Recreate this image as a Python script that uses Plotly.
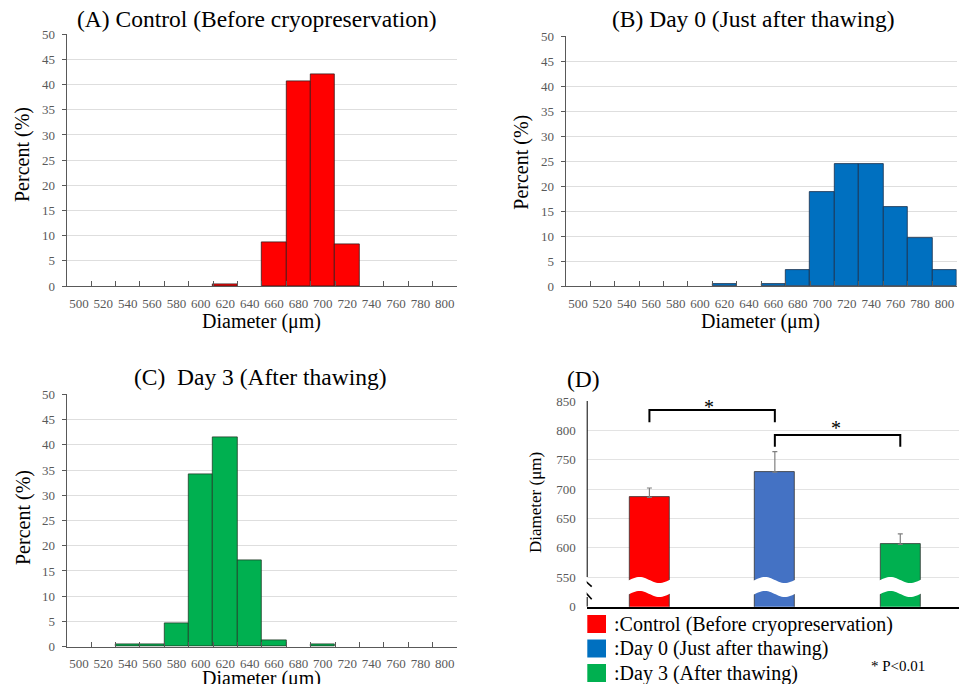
import numpy as np
import plotly.graph_objects as go

# ---------------- data ----------------
bins = ["500", "520", "540", "560", "580", "600", "620", "640",
        "660", "680", "700", "720", "740", "760", "780", "800"]
pct_control = [0, 0, 0, 0, 0, 0, 0.35, 0, 8.7, 40.6, 42.0, 8.3, 0, 0, 0, 0]
pct_day0 = [0, 0, 0, 0, 0, 0, 0.35, 0, 0.35, 3.2, 18.8, 24.4, 24.4, 15.9, 9.6, 3.2]
pct_day3 = [0, 0, 0.4, 0.4, 4.7, 34.2, 41.4, 17.1, 1.2, 0, 0.4, 0, 0, 0, 0, 0]

groups = ["Control (Before cryopreservation)", "Day 0 (Just after thawing)", "Day 3 (After thawing)"]
mean_diam = [686, 729, 606]
sd_diam = [16, 35, 18]
d_ticks = [500, 550, 600, 650, 700, 750, 800, 850]
d_ticktext = ["0", "550", "600", "650", "700", "750", "800", "850"]
sig_pairs = [(0, 1), (1, 2)]
sig_top = [834.7, 792.1]
sig_leg = [20.9, 19.9]
sig_star_y = [840.6, 804.1]
sig_star_x = [0.475, 1.49]

# page body margin compensation
OX, OY = 8, 8
W, H = 967 - OX, 684 - OY
SERIF = "Liberation Serif"
GREY = "#595959"

hist_colors = ["#FF0000", "#0070C0", "#00B050"]
hist_lines = ["#3a1a1a", "#1b2f4a", "#1f3d27"]
d_colors = ["#FF0000", "#4472C4", "#00B050"]
legend_colors = ["#FF0000", "#0070C0", "#00B050"]

fig = go.Figure()

for i, (vals, ax) in enumerate([(pct_control, ""), (pct_day0, "2"), (pct_day3, "3")]):
    fig.add_trace(go.Bar(
        x=bins, y=vals, xaxis="x" + ax, yaxis="y" + ax,
        marker=dict(color=hist_colors[i],
                    line=dict(color=hist_lines[i], width=[0.8 if v > 0 else 0 for v in vals])),
        showlegend=False, hoverinfo="x+y"))

fig.add_trace(go.Bar(
    x=[0, 1, 2], y=mean_diam, width=0.32, xaxis="x4", yaxis="y4",
    marker=dict(color=d_colors, line=dict(color="#333333", width=0.8)),
    error_y=dict(type="data", array=sd_diam, arrayminus=[0, 0, 0], symmetric=False,
                 color="#7f7f7f", thickness=1.2, width=2.5),
    showlegend=False))


def px_x(px):
    return (px - OX) / W


def px_y(py):
    return 1 - (py - OY) / H


hist_domains = [
    ([66.7, 457.0], [34.3, 286.0]),
    ([565.7, 956.7], [36.0, 286.0]),
    ([66.7, 457.0], [394.3, 646.7]),
]

layout = dict(
    width=W, height=H, autosize=False,
    margin=dict(l=0, r=0, t=0, b=0, pad=0, autoexpand=False),
    paper_bgcolor="white", plot_bgcolor="white",
    bargap=0, showlegend=False,
    font=dict(family=SERIF, color="black"),
)

for i, (xd, yd) in enumerate(hist_domains):
    sfx = "" if i == 0 else str(i + 1)
    layout["xaxis" + sfx] = dict(
        domain=[px_x(xd[0]), px_x(xd[1])], anchor="y" + sfx, type="category",
        tickson="boundaries", ticks="inside", ticklen=5, tickcolor=GREY,
        showline=True, linecolor=GREY, linewidth=1, showgrid=False,
        tickfont=dict(family=SERIF, size=13, color=GREY), tickangle=0,
        ticklabelstandoff=5, fixedrange=True, automargin=False)
    layout["yaxis" + sfx] = dict(
        domain=[px_y(yd[1]), px_y(yd[0])], anchor="x" + sfx,
        range=[0, 50], dtick=5, ticks="outside", ticklen=4, tickcolor=GREY,
        showline=True, linecolor=GREY, linewidth=1,
        showgrid=True, gridcolor="#dedede", gridwidth=1, zeroline=False,
        tickfont=dict(family=SERIF, size=13, color=GREY),
        ticklabelstandoff=4, fixedrange=True, automargin=False)

# panel D
dx0, dx1 = 586.7, 963.0
dy_top, dy_bot = 401.0, 606.7
layout["xaxis4"] = dict(
    domain=[px_x(dx0), px_x(dx1)], anchor="y4", range=[-0.5, 2.5],
    showticklabels=False, ticks="", showgrid=False, zeroline=False,
    showline=True, linecolor="black", linewidth=2, fixedrange=True, automargin=False)
layout["yaxis4"] = dict(
    domain=[px_y(dy_bot), px_y(dy_top)], anchor="x4", range=[500, 850],
    tickvals=d_ticks, ticktext=d_ticktext, ticks="", showline=False,
    showgrid=True, gridcolor="#e3e3e3", gridwidth=1, zeroline=False,
    tickfont=dict(family=SERIF, size=13, color=GREY),
    ticklabelstandoff=10, fixedrange=True, automargin=False)

ppu = (dy_bot - dy_top) / 350.0


def py_to_val(py):
    return 850 - (py - dy_top) / ppu


def px_to_xval(px):
    return -0.5 + (px - dx0) / ((dx1 - dx0) / 3.0)


shapes = []
# y-axis line of panel D, broken
shapes.append(dict(type="line", xref="x4", yref="y4", x0=-0.5, x1=-0.5,
                   y0=py_to_val(577), y1=850, line=dict(color="black", width=2)))
shapes.append(dict(type="line", xref="x4", yref="y4", x0=-0.5, x1=-0.5,
                   y0=500, y1=py_to_val(597), line=dict(color="black", width=2)))
# slashes
for (ax0, ay0, ax1, ay1) in [(580, 576, 591.7, 586.7), (581.7, 588.3, 591.7, 599.3)]:
    shapes.append(dict(type="line", xref="x4", yref="y4",
                       x0=px_to_xval(ax0), y0=py_to_val(ay0),
                       x1=px_to_xval(ax1), y1=py_to_val(ay1),
                       line=dict(color="black", width=1.6)))

# wavy break band over each bar
for c in range(3):
    xs = np.linspace(c - 0.175, c + 0.175, 30)
    t = (xs - (c - 0.16)) / 0.32
    top = [py_to_val(580 - 3.0 * np.sin(2 * np.pi * tt)) for tt in t]
    bot = [py_to_val(594 - 3.0 * np.sin(2 * np.pi * tt)) for tt in t]
    pts = [(x, y) for x, y in zip(xs, top)] + [(x, y) for x, y in zip(xs[::-1], bot[::-1])]
    path = "M " + " L ".join(f"{x:.4f},{y:.3f}" for x, y in pts) + " Z"
    shapes.append(dict(type="path", xref="x4", yref="y4", path=path,
                       fillcolor="white", line=dict(width=0), layer="above"))

# significance brackets
for (a, b), top, leg in zip(sig_pairs, sig_top, sig_leg):
    path = f"M {a},{top - leg} L {a},{top} L {b},{top} L {b},{top - leg}"
    shapes.append(dict(type="path", xref="x4", yref="y4", path=path,
                       line=dict(color="black", width=2)))

# legend squares
leg_rows = [624, 648.5, 673]
for col, cy in zip(legend_colors, leg_rows):
    shapes.append(dict(type="rect", xref="paper", yref="paper",
                       x0=px_x(587.3), x1=px_x(606), y0=px_y(cy + 9), y1=px_y(cy - 9),
                       fillcolor=col, line=dict(width=0)))

layout["shapes"] = shapes

ann = []


def add_text(text, x, y, size, xanchor="center", angle=0, color="black"):
    ann.append(dict(text=text, x=px_x(x), y=px_y(y), xref="paper", yref="paper",
                    xanchor=xanchor, yanchor="middle", showarrow=False,
                    textangle=angle, font=dict(family=SERIF, size=size, color=color)))


add_text("(A) Control (Before cryopreservation)", 257, 19, 23.5)
add_text("(B) Day 0 (Just after thawing)", 753, 19, 23.5)
add_text("(C)  Day 3 (After thawing)", 260, 377, 23.5)
add_text("(D)", 583, 379, 23.5)

for (x, y) in [(23, 155), (521.7, 162), (23, 518)]:
    add_text("Percent (%)", x, y, 20, angle=-90)
for (x, y) in [(261, 321), (760.8, 321.7), (261, 678)]:
    add_text("Diameter (μm)", x, y, 20)

add_text("Diameter (μm)", 535, 503, 17, angle=-90)

# stars
for sx, sy in zip(sig_star_x, sig_star_y):
    ann.append(dict(text="*", x=sx, y=sy, xref="x4", yref="y4",
                    xanchor="center", yanchor="middle", showarrow=False,
                    font=dict(family=SERIF, size=20, color="black")))

for g, cy in zip(groups, leg_rows):
    add_text(":" + g, 612, cy, 20, xanchor="left")
add_text("* P<0.01", 869, 666, 15, xanchor="left")

layout["annotations"] = ann
fig.update_layout(**layout)
fig.write_html("out.html")
